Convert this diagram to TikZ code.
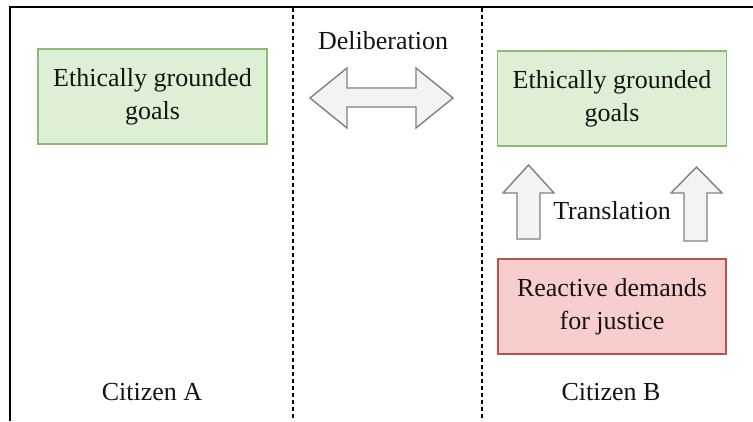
\documentclass[tikz,border=0pt]{standalone}
\usepackage{fontspec}
\setmainfont{Liberation Serif}
\definecolor{gfill}{HTML}{DDF0D6}
\definecolor{gline}{HTML}{8DBB76}
\definecolor{rfill}{HTML}{F8CECC}
\definecolor{rline}{HTML}{B85450}
\definecolor{afill}{HTML}{F3F3F3}
\definecolor{aline}{HTML}{808080}
\definecolor{txt}{HTML}{141414}
\begin{document}
\begin{tikzpicture}[x=1pt,y=-1pt,
  lbl/.style={font=\fontsize{26}{33}\selectfont, text=txt, inner sep=0pt, align=center},
  goalbox/.style={lbl, draw=gline, fill=gfill, line width=1.4pt, minimum width=229pt, minimum height=95pt},
  reactbox/.style={lbl, draw=rline, fill=rfill, line width=1.4pt, minimum width=228pt, minimum height=95pt},
  bigarrow/.style={draw=aline, fill=afill, line width=1.4pt, line join=miter},
  divider/.style={black, line width=1.2pt, dash pattern=on 4pt off 3pt},
  frame/.style={black, line width=2.4pt}]
\useasboundingbox (0,0) rectangle (753,421);
\fill[white] (0,0) rectangle (753,421);
% frame
\draw[frame] (10,421) -- (10,7) -- (753,7);
% dividers
\coordinate (d1t) at (293,8);
\coordinate (d1b) at (293,421);
\coordinate (d2t) at (482,8);
\coordinate (d2b) at (482,421);
\draw[divider] (d1t) -- (d1b);
\draw[divider] (d2t) -- (d2b);
% boxes
\node[goalbox] (goalA) at (152.5,96.5) {Ethically grounded\\goals};
\node[goalbox] (goalB) at (612,98.5) {Ethically grounded\\goals};
\node[reactbox] (react) at (612,306.5) {Reactive demands\\for justice};
% labels
\node[lbl] (delib) at (383,41) {Deliberation};
\node[lbl] (transl) at (612,211) {Translation};
\node[lbl] (citA) at (152,392) {Citizen A};
\node[lbl] (citB) at (611,392) {Citizen B};
% double arrow
\draw[bigarrow] (310,98) -- (347,68) -- (347,88) -- (416,88) -- (416,68) -- (453,98)
  -- (416,128) -- (416,107) -- (347,107) -- (347,128) -- cycle;
% up arrows
\draw[bigarrow] (528.5,165) -- (554,193) -- (540,193) -- (540,239) -- (517,239) -- (517,193) -- (503,193) -- cycle;
\draw[bigarrow] (696.5,167) -- (722,193) -- (707,193) -- (707,241) -- (684,241) -- (684,193) -- (671,193) -- cycle;
\end{tikzpicture}
\end{document}
